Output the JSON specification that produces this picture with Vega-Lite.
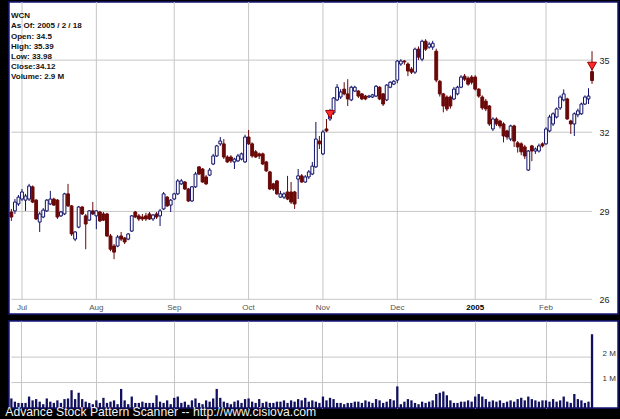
{
"$schema":"https://vega.github.io/schema/vega-lite/v6.json",
"background":"black",
"padding":{"left":5,"top":0,"right":6,"bottom":0},
"spacing":5,
"title":{"text":"Advance Stock Pattern Scanner -- http://www.cisiova.com","orient":"bottom","anchor":"start","color":"#f2f2f2","font":"Liberation Sans","fontSize":12.2,"fontWeight":"normal","offset":0,"dx":-3,"dy":-2.5},
"config":{"view":{"fill":"white","stroke":"#16167a","strokeWidth":1.5},"axis":{"labelFont":"Liberation Sans"}},
"datasets":{
"px":[
{"d":"2004-06-28","o":28.98,"h":29.09,"l":28.66,"c":28.80,"v":375000},
{"d":"2004-06-29","o":29.02,"h":29.45,"l":28.91,"c":29.34,"v":250000},
{"d":"2004-06-30","o":29.27,"h":29.6,"l":29.2,"c":29.52,"v":200000},
{"d":"2004-07-01","o":29.45,"h":29.82,"l":29.38,"c":29.71,"v":200000},
{"d":"2004-07-02","o":29.41,"h":29.64,"l":29.02,"c":29.56,"v":200000},
{"d":"2004-07-06","o":29.45,"h":30.01,"l":29.38,"c":29.93,"v":450000},
{"d":"2004-07-07","o":29.90,"h":29.95,"l":29.3,"c":29.34,"v":300000},
{"d":"2004-07-08","o":29.41,"h":29.45,"l":28.69,"c":28.73,"v":350000},
{"d":"2004-07-09","o":28.62,"h":28.98,"l":28.27,"c":28.91,"v":250000},
{"d":"2004-07-12","o":28.80,"h":29.12,"l":28.76,"c":29.05,"v":150000},
{"d":"2004-07-13","o":29.02,"h":29.45,"l":28.98,"c":29.41,"v":375000},
{"d":"2004-07-14","o":29.27,"h":29.75,"l":29.23,"c":29.45,"v":250000},
{"d":"2004-07-15","o":29.45,"h":29.5,"l":29.2,"c":29.23,"v":200000},
{"d":"2004-07-16","o":29.41,"h":29.45,"l":28.73,"c":28.80,"v":300000},
{"d":"2004-07-19","o":28.84,"h":29.02,"l":28.80,"c":28.98,"v":200000},
{"d":"2004-07-20","o":28.91,"h":29.68,"l":28.87,"c":29.64,"v":350000},
{"d":"2004-07-21","o":29.64,"h":30.01,"l":29.16,"c":29.20,"v":375000},
{"d":"2004-07-22","o":29.20,"h":29.23,"l":28.13,"c":28.20,"v":700000},
{"d":"2004-07-23","o":28.02,"h":28.3,"l":27.95,"c":28.27,"v":350000},
{"d":"2004-07-26","o":28.44,"h":29.2,"l":28.4,"c":29.16,"v":600000},
{"d":"2004-07-27","o":29.16,"h":29.2,"l":28.87,"c":28.91,"v":350000},
{"d":"2004-07-28","o":28.84,"h":28.91,"l":27.67,"c":28.55,"v":250000},
{"d":"2004-07-29","o":28.69,"h":29.05,"l":28.66,"c":29.02,"v":200000},
{"d":"2004-07-30","o":29.02,"h":29.34,"l":28.87,"c":28.91,"v":150000},
{"d":"2004-08-02","o":28.84,"h":29.05,"l":28.37,"c":29.02,"v":300000},
{"d":"2004-08-03","o":28.98,"h":29.02,"l":28.62,"c":28.66,"v":200000},
{"d":"2004-08-04","o":28.91,"h":28.98,"l":28.66,"c":28.69,"v":400000},
{"d":"2004-08-05","o":28.91,"h":28.95,"l":28.09,"c":28.13,"v":200000},
{"d":"2004-08-06","o":28.13,"h":28.2,"l":27.6,"c":27.67,"v":250000},
{"d":"2004-08-09","o":27.78,"h":27.85,"l":27.33,"c":27.57,"v":300000},
{"d":"2004-08-10","o":27.78,"h":28.16,"l":27.74,"c":28.09,"v":150000},
{"d":"2004-08-11","o":28.13,"h":28.27,"l":27.95,"c":28.02,"v":750000},
{"d":"2004-08-12","o":28.06,"h":28.09,"l":27.85,"c":27.92,"v":300000},
{"d":"2004-08-13","o":28.02,"h":28.23,"l":27.98,"c":28.20,"v":150000},
{"d":"2004-08-16","o":28.30,"h":28.87,"l":28.27,"c":28.84,"v":450000},
{"d":"2004-08-17","o":28.98,"h":29.02,"l":28.76,"c":28.80,"v":200000},
{"d":"2004-08-18","o":28.84,"h":28.91,"l":28.66,"c":28.73,"v":200000},
{"d":"2004-08-19","o":28.80,"h":28.91,"l":28.66,"c":28.73,"v":250000},
{"d":"2004-08-20","o":28.84,"h":28.95,"l":28.66,"c":28.73,"v":200000},
{"d":"2004-08-23","o":28.91,"h":28.98,"l":28.69,"c":28.73,"v":200000},
{"d":"2004-08-24","o":28.73,"h":28.91,"l":28.66,"c":28.87,"v":200000},
{"d":"2004-08-25","o":28.91,"h":28.98,"l":28.73,"c":28.80,"v":500000},
{"d":"2004-08-26","o":28.84,"h":29.09,"l":28.48,"c":29.02,"v":250000},
{"d":"2004-08-27","o":29.09,"h":29.71,"l":29.05,"c":29.64,"v":200000},
{"d":"2004-08-30","o":29.52,"h":29.56,"l":29.16,"c":29.20,"v":300000},
{"d":"2004-08-31","o":29.23,"h":29.45,"l":28.98,"c":29.41,"v":150000},
{"d":"2004-09-01","o":29.45,"h":29.68,"l":29.41,"c":29.64,"v":400000},
{"d":"2004-09-02","o":29.64,"h":30.19,"l":29.6,"c":30.12,"v":450000},
{"d":"2004-09-03","o":30.01,"h":30.19,"l":29.97,"c":30.12,"v":200000},
{"d":"2004-09-07","o":30.08,"h":30.12,"l":29.78,"c":29.82,"v":250000},
{"d":"2004-09-08","o":29.82,"h":29.86,"l":29.34,"c":29.38,"v":125000},
{"d":"2004-09-09","o":29.38,"h":29.93,"l":29.34,"c":29.90,"v":300000},
{"d":"2004-09-10","o":29.90,"h":30.46,"l":29.86,"c":30.38,"v":375000},
{"d":"2004-09-13","o":30.65,"h":30.68,"l":30.34,"c":30.38,"v":200000},
{"d":"2004-09-14","o":30.57,"h":30.61,"l":30.05,"c":30.08,"v":150000},
{"d":"2004-09-15","o":30.27,"h":30.34,"l":29.97,"c":30.01,"v":300000},
{"d":"2004-09-16","o":30.34,"h":30.61,"l":30.3,"c":30.53,"v":250000},
{"d":"2004-09-17","o":30.76,"h":31.15,"l":30.72,"c":31.07,"v":375000},
{"d":"2004-09-20","o":31.07,"h":31.5,"l":31.03,"c":31.46,"v":750000},
{"d":"2004-09-21","o":31.54,"h":31.81,"l":31.46,"c":31.65,"v":400000},
{"d":"2004-09-22","o":31.54,"h":31.73,"l":30.95,"c":31.03,"v":250000},
{"d":"2004-09-23","o":31.03,"h":31.1,"l":30.8,"c":30.84,"v":200000},
{"d":"2004-09-24","o":31.03,"h":31.1,"l":30.8,"c":30.88,"v":150000},
{"d":"2004-09-27","o":30.84,"h":31.0,"l":30.57,"c":30.95,"v":250000},
{"d":"2004-09-28","o":30.88,"h":31.15,"l":30.84,"c":31.07,"v":300000},
{"d":"2004-09-29","o":30.95,"h":31.2,"l":30.9,"c":31.15,"v":200000},
{"d":"2004-09-30","o":30.84,"h":31.9,"l":30.8,"c":31.81,"v":350000},
{"d":"2004-10-01","o":31.81,"h":32.09,"l":31.5,"c":31.54,"v":375000},
{"d":"2004-10-04","o":31.54,"h":31.6,"l":31.0,"c":31.07,"v":250000},
{"d":"2004-10-05","o":31.23,"h":31.3,"l":31.0,"c":31.03,"v":200000},
{"d":"2004-10-06","o":31.15,"h":31.2,"l":30.95,"c":31.07,"v":350000},
{"d":"2004-10-07","o":31.15,"h":31.2,"l":30.72,"c":30.76,"v":200000},
{"d":"2004-10-08","o":30.84,"h":30.88,"l":30.46,"c":30.50,"v":250000},
{"d":"2004-10-11","o":30.46,"h":30.5,"l":29.78,"c":29.82,"v":200000},
{"d":"2004-10-12","o":30.01,"h":30.05,"l":29.75,"c":29.82,"v":200000},
{"d":"2004-10-13","o":30.12,"h":30.16,"l":29.6,"c":29.64,"v":250000},
{"d":"2004-10-14","o":29.52,"h":29.75,"l":29.49,"c":29.64,"v":250000},
{"d":"2004-10-15","o":29.52,"h":29.7,"l":29.45,"c":29.64,"v":300000},
{"d":"2004-10-18","o":29.71,"h":30.31,"l":29.41,"c":29.45,"v":200000},
{"d":"2004-10-19","o":29.71,"h":30.08,"l":29.27,"c":29.34,"v":300000},
{"d":"2004-10-20","o":29.71,"h":29.75,"l":29.09,"c":29.27,"v":250000},
{"d":"2004-10-21","o":30.19,"h":30.57,"l":29.45,"c":30.31,"v":350000},
{"d":"2004-10-22","o":30.31,"h":30.38,"l":30.05,"c":30.08,"v":300000},
{"d":"2004-10-25","o":30.08,"h":30.34,"l":30.05,"c":30.27,"v":400000},
{"d":"2004-10-26","o":30.27,"h":30.53,"l":30.19,"c":30.46,"v":250000},
{"d":"2004-10-27","o":30.38,"h":30.84,"l":30.34,"c":30.68,"v":300000},
{"d":"2004-10-28","o":30.65,"h":32.41,"l":30.61,"c":31.73,"v":250000},
{"d":"2004-10-29","o":31.65,"h":31.85,"l":31.34,"c":31.54,"v":200000},
{"d":"2004-11-01","o":31.15,"h":32.09,"l":31.1,"c":32.01,"v":450000},
{"d":"2004-11-02","o":32.13,"h":32.53,"l":32.0,"c":32.05,"v":300000},
{"d":"2004-11-03","o":32.53,"h":32.94,"l":32.45,"c":32.82,"v":400000},
{"d":"2004-11-04","o":32.78,"h":33.43,"l":32.7,"c":33.39,"v":350000},
{"d":"2004-11-05","o":33.31,"h":33.97,"l":33.26,"c":33.84,"v":200000},
{"d":"2004-11-08","o":33.43,"h":33.76,"l":33.35,"c":33.64,"v":200000},
{"d":"2004-11-09","o":33.76,"h":34.05,"l":33.5,"c":33.56,"v":150000},
{"d":"2004-11-10","o":33.56,"h":34.18,"l":33.06,"c":33.35,"v":200000},
{"d":"2004-11-11","o":33.31,"h":33.9,"l":33.26,"c":33.84,"v":200000},
{"d":"2004-11-12","o":33.68,"h":33.9,"l":33.64,"c":33.84,"v":250000},
{"d":"2004-11-15","o":33.68,"h":33.72,"l":33.39,"c":33.47,"v":250000},
{"d":"2004-11-16","o":33.56,"h":33.6,"l":33.3,"c":33.35,"v":200000},
{"d":"2004-11-17","o":33.47,"h":33.52,"l":33.3,"c":33.35,"v":300000},
{"d":"2004-11-18","o":33.43,"h":33.52,"l":33.39,"c":33.47,"v":250000},
{"d":"2004-11-19","o":33.43,"h":33.56,"l":33.39,"c":33.52,"v":200000},
{"d":"2004-11-22","o":33.47,"h":33.93,"l":33.43,"c":33.88,"v":350000},
{"d":"2004-11-23","o":33.84,"h":33.88,"l":33.3,"c":33.35,"v":300000},
{"d":"2004-11-24","o":33.56,"h":33.6,"l":33.06,"c":33.14,"v":200000},
{"d":"2004-11-26","o":33.31,"h":33.97,"l":33.26,"c":33.93,"v":250000},
{"d":"2004-11-29","o":33.84,"h":34.09,"l":33.8,"c":34.05,"v":350000},
{"d":"2004-11-30","o":33.97,"h":34.14,"l":33.93,"c":34.09,"v":300000},
{"d":"2004-12-01","o":34.14,"h":35.0,"l":34.01,"c":34.96,"v":850000},
{"d":"2004-12-02","o":34.83,"h":35.04,"l":34.75,"c":34.96,"v":150000},
{"d":"2004-12-03","o":34.96,"h":35.0,"l":34.8,"c":34.92,"v":250000},
{"d":"2004-12-06","o":34.83,"h":34.9,"l":34.31,"c":34.53,"v":350000},
{"d":"2004-12-07","o":34.61,"h":34.7,"l":34.4,"c":34.48,"v":300000},
{"d":"2004-12-08","o":34.48,"h":35.55,"l":34.4,"c":35.48,"v":200000},
{"d":"2004-12-09","o":35.48,"h":35.6,"l":35.0,"c":35.13,"v":150000},
{"d":"2004-12-10","o":35.04,"h":35.9,"l":34.95,"c":35.83,"v":250000},
{"d":"2004-12-13","o":35.83,"h":35.92,"l":35.4,"c":35.48,"v":200000},
{"d":"2004-12-14","o":35.57,"h":35.8,"l":35.5,"c":35.70,"v":250000},
{"d":"2004-12-15","o":35.57,"h":35.85,"l":35.45,"c":35.74,"v":300000},
{"d":"2004-12-16","o":35.39,"h":35.5,"l":34.05,"c":34.14,"v":550000},
{"d":"2004-12-17","o":34.09,"h":34.15,"l":33.45,"c":33.56,"v":600000},
{"d":"2004-12-20","o":33.56,"h":33.6,"l":32.8,"c":33.06,"v":650000},
{"d":"2004-12-21","o":33.43,"h":33.5,"l":32.85,"c":32.94,"v":500000},
{"d":"2004-12-22","o":33.43,"h":33.5,"l":32.95,"c":33.06,"v":300000},
{"d":"2004-12-23","o":33.35,"h":33.85,"l":33.3,"c":33.76,"v":200000},
{"d":"2004-12-27","o":33.56,"h":33.9,"l":33.5,"c":33.84,"v":200000},
{"d":"2004-12-28","o":33.84,"h":34.35,"l":33.8,"c":34.27,"v":250000},
{"d":"2004-12-29","o":34.31,"h":34.4,"l":34.1,"c":34.18,"v":250000},
{"d":"2004-12-30","o":34.22,"h":34.3,"l":33.9,"c":33.97,"v":300000},
{"d":"2004-12-31","o":34.27,"h":34.35,"l":33.95,"c":34.05,"v":250000},
{"d":"2005-01-03","o":34.27,"h":34.35,"l":33.7,"c":33.76,"v":450000},
{"d":"2005-01-04","o":33.76,"h":33.8,"l":33.4,"c":33.47,"v":550000},
{"d":"2005-01-05","o":33.43,"h":33.5,"l":32.9,"c":32.98,"v":450000},
{"d":"2005-01-06","o":33.26,"h":33.35,"l":32.85,"c":32.94,"v":350000},
{"d":"2005-01-07","o":33.06,"h":33.1,"l":32.25,"c":32.33,"v":250000},
{"d":"2005-01-10","o":32.13,"h":32.6,"l":32.05,"c":32.53,"v":300000},
{"d":"2005-01-11","o":32.53,"h":32.6,"l":32.25,"c":32.33,"v":250000},
{"d":"2005-01-12","o":32.45,"h":32.5,"l":32.15,"c":32.25,"v":300000},
{"d":"2005-01-13","o":32.33,"h":32.4,"l":31.6,"c":31.85,"v":200000},
{"d":"2005-01-14","o":32.05,"h":32.1,"l":31.7,"c":31.81,"v":250000},
{"d":"2005-01-18","o":31.73,"h":32.3,"l":31.65,"c":32.25,"v":300000},
{"d":"2005-01-19","o":32.25,"h":32.3,"l":31.42,"c":31.65,"v":250000},
{"d":"2005-01-20","o":31.58,"h":31.65,"l":31.2,"c":31.42,"v":350000},
{"d":"2005-01-21","o":31.54,"h":31.6,"l":31.1,"c":31.23,"v":400000},
{"d":"2005-01-24","o":31.42,"h":31.5,"l":30.95,"c":31.07,"v":300000},
{"d":"2005-01-25","o":30.53,"h":31.3,"l":30.5,"c":31.26,"v":450000},
{"d":"2005-01-26","o":31.46,"h":31.5,"l":30.87,"c":31.26,"v":350000},
{"d":"2005-01-27","o":31.26,"h":31.4,"l":31.15,"c":31.34,"v":300000},
{"d":"2005-01-28","o":31.26,"h":31.55,"l":31.2,"c":31.46,"v":250000},
{"d":"2005-01-31","o":31.54,"h":31.6,"l":31.4,"c":31.46,"v":300000},
{"d":"2005-02-01","o":31.54,"h":32.2,"l":31.5,"c":32.13,"v":300000},
{"d":"2005-02-02","o":32.05,"h":32.7,"l":32.0,"c":32.61,"v":250000},
{"d":"2005-02-03","o":32.33,"h":32.8,"l":32.25,"c":32.74,"v":350000},
{"d":"2005-02-04","o":32.61,"h":33.0,"l":32.55,"c":32.94,"v":250000},
{"d":"2005-02-07","o":32.98,"h":33.5,"l":32.9,"c":33.43,"v":300000},
{"d":"2005-02-08","o":33.31,"h":33.75,"l":33.25,"c":33.56,"v":450000},
{"d":"2005-02-09","o":33.35,"h":33.4,"l":32.5,"c":32.53,"v":250000},
{"d":"2005-02-10","o":32.45,"h":32.5,"l":31.93,"c":32.33,"v":200000},
{"d":"2005-02-11","o":32.33,"h":32.8,"l":31.85,"c":32.74,"v":550000},
{"d":"2005-02-14","o":32.7,"h":32.95,"l":32.6,"c":32.86,"v":350000},
{"d":"2005-02-15","o":32.74,"h":33.2,"l":32.7,"c":33.14,"v":300000},
{"d":"2005-02-16","o":33.14,"h":33.5,"l":33.1,"c":33.43,"v":200000},
{"d":"2005-02-17","o":33.35,"h":33.8,"l":33.14,"c":33.47,"v":250000},
{"d":"2005-02-18","o":34.5,"h":35.39,"l":33.98,"c":34.12,"v":2900000}
],
"months":[{"m":"2004-07-01"},{"m":"2004-08-02"},{"m":"2004-09-01"},{"m":"2004-10-01"},{"m":"2004-11-01"},{"m":"2004-12-01"},{"m":"2005-01-03"},{"m":"2005-02-01"}],
"pg":[{"p":26},{"p":29},{"p":32},{"p":35}],
"vg":[{"v":1000000},{"v":2000000}],
"sig":[{"d":"2004-11-03","p":32.72},{"d":"2005-02-18","p":34.74}]
},
"vconcat":[
{
"width":609,"height":312,
"title":{"text":["WCN","As Of: 2005 / 2 / 18","Open: 34.5","High: 35.39","Low: 33.98","Close:34.12","Volume: 2.9 M"],"orient":"top","anchor":"start","offset":-88,"dx":2,"fontSize":8,"fontWeight":"bold","font":"Liberation Sans","color":"#111111","lineHeight":10.2,"baseline":"bottom"},
"layer":[
{"data":{"name":"pg"},"mark":{"type":"rule","color":"#c6c6c6","strokeWidth":1},
 "encoding":{
  "y":{"field":"p","type":"quantitative","scale":{"type":"log","domain":[25.53,37.62],"nice":false,"zero":false},
       "axis":{"orient":"right","offset":-22,"values":[26,29,32,35],"grid":false,"domain":false,"ticks":false,"labelPadding":3,"labelFontSize":9,"labelColor":"#222222","labelAlign":"left","labelBaseline":"middle","title":null}},
  "x":{"datum":"2004-06-28","type":"ordinal","scale":{"type":"band","range":[0.6,584.8],"paddingInner":0,"paddingOuter":0},
       "axis":{"orient":"bottom","offset":-13,"values":["2004-07-01","2004-08-02","2004-09-01","2004-10-01","2004-11-01","2004-12-01","2005-01-03","2005-02-01"],"labelExpr":"['Jul','Aug','Sep','Oct','Nov','Dec','2005','Feb'][indexof(['2004-07-01','2004-08-02','2004-09-01','2004-10-01','2004-11-01','2004-12-01','2005-01-03','2005-02-01'], datum.value)]","grid":false,"domain":false,"ticks":false,"labelPadding":2,"labelFontSize":8,"labelAngle":0,"bandPosition":0.5,"labelColor":{"condition":{"test":"datum.value == '2005-01-03'","value":"#000000"},"value":"#555555"},"labelFontWeight":{"condition":{"test":"datum.value == '2005-01-03'","value":"bold"},"value":"normal"},"title":null}},
  "x2":{"datum":"2005-02-18"}
 }},
{"data":{"name":"months"},"mark":{"type":"rule","color":"#c6c6c6","strokeWidth":1},
 "encoding":{
  "x":{"field":"m","type":"ordinal"},
  "y":{"datum":25.98,"type":"quantitative"},
  "y2":{"datum":37.62}
 }},
{"data":{"name":"px"},"mark":{"type":"rule","strokeWidth":1},
 "encoding":{
  "x":{"field":"d","type":"ordinal"},
  "y":{"field":"l","type":"quantitative"},
  "y2":{"field":"h"},
  "color":{"condition":{"test":"datum.c >= datum.o","value":"#10106a"},"value":"#6a0808"}
 }},
{"data":{"name":"px"},"mark":{"type":"bar","width":{"band":0.8},"strokeWidth":1},
 "encoding":{
  "x":{"field":"d","type":"ordinal"},
  "y":{"field":"o","type":"quantitative"},
  "y2":{"field":"c"},
  "fill":{"condition":{"test":"datum.c >= datum.o","value":"#ffffff"},"value":"#6a0808"},
  "stroke":{"condition":{"test":"datum.c >= datum.o","value":"#10106a"},"value":"#6a0808"}
 }},
{"data":{"name":"sig"},"mark":{"type":"point","shape":"triangle-down","filled":true,"size":80,"fill":"#ff2a2a","stroke":"#990000","strokeWidth":1,"opacity":1},
 "encoding":{
  "x":{"field":"d","type":"ordinal"},
  "y":{"field":"p","type":"quantitative"}
 }}
]
},
{
"width":609,"height":87,
"layer":[
{"data":{"name":"vg"},"mark":{"type":"rule","color":"#c6c6c6","strokeWidth":1},
 "encoding":{
  "y":{"field":"v","type":"quantitative","scale":{"domain":[0,3420000],"nice":false,"zero":true},
       "axis":{"orient":"right","offset":-20,"values":[1000000,2000000],"labelExpr":"(datum.value/1000000) + ' M'","grid":false,"domain":false,"ticks":false,"labelAlign":"left","labelBaseline":"bottom","labelPadding":4,"labelFontSize":8,"labelColor":"#333333","title":null}},
  "x":{"datum":"2004-06-28","type":"ordinal","scale":{"type":"band","range":[0.6,584.8],"paddingInner":0,"paddingOuter":0},
       "axis":{"orient":"bottom","values":["2004-07-01","2004-08-02","2004-09-01","2004-10-01","2004-11-01","2004-12-01","2005-01-03","2005-02-01"],"grid":true,"gridColor":"#c6c6c6","labels":false,"ticks":false,"domain":false,"bandPosition":0.5,"title":null}},
  "x2":{"datum":"2005-02-18"}
 }},
{"data":{"name":"px"},"mark":{"type":"bar","width":{"band":0.65},"color":"#10105e"},
 "encoding":{
  "x":{"field":"d","type":"ordinal"},
  "y":{"field":"v","type":"quantitative"}
 }}
]
}
]
}
